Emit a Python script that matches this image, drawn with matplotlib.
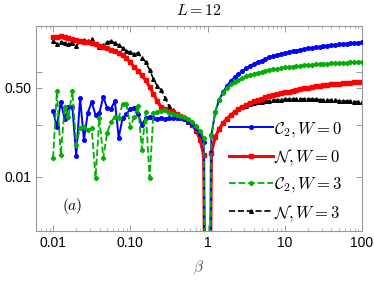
import numpy as np
import matplotlib
matplotlib.use('Agg')
import matplotlib.pyplot as plt
from matplotlib.ticker import FixedLocator, FixedFormatter, LogLocator, NullFormatter

plt.rcParams['mathtext.fontset'] = 'cm'
plt.rcParams['font.family'] = ['Liberation Sans', 'DejaVu Sans']

# beta grid, 0.05 decades from 0.01 to 100
beta = np.logspace(-2, 2, 81)

c2_w0 = [0.182, 0.090, 0.270, 0.128, 0.217, 0.217, 0.025, 0.322, 0.051, 0.167,
         0.270, 0.152, 0.167, 0.337, 0.208, 0.199, 0.283, 0.056, 0.134, 0.159,
         0.199, 0.208, 0.159, 0.098, 0.134, 0.140, 0.134, 0.128, 0.134, 0.128,
         0.134, 0.134, 0.134, 0.131, 0.128, 0.117, 0.103, 0.086, 0.066, 0.047,
         0.0,
         0.063, 0.174, 0.295, 0.419, 0.546, 0.680, 0.811, 0.925, 1.06, 1.18,
         1.31, 1.44, 1.57, 1.67, 1.79, 1.91, 2.04, 2.13, 2.23, 2.33,
         2.41, 2.50, 2.59, 2.68, 2.77, 2.85, 2.92, 3.00, 3.07, 3.14,
         3.21, 3.28, 3.34, 3.39, 3.46, 3.52, 3.57, 3.61, 3.66, 3.71]

neg_w0 = [4.60, 4.70, 4.81, 4.60, 4.40, 4.21, 4.12, 3.94, 3.77, 3.69,
          3.53, 3.38, 3.17, 3.03, 2.84, 2.66, 2.49, 2.33, 2.09, 1.87,
          1.53, 1.26, 1.06, 0.866, 0.695, 0.522, 0.384, 0.283, 0.212, 0.194,
          0.182, 0.170, 0.159, 0.146, 0.134, 0.117, 0.098, 0.079, 0.053, 0.026,
          0.0,
          0.029, 0.058, 0.082, 0.107, 0.128, 0.152, 0.174, 0.199, 0.217, 0.237,
          0.259, 0.276, 0.295, 0.308, 0.329, 0.344, 0.359, 0.375, 0.392, 0.410,
          0.426, 0.444, 0.462, 0.478, 0.491, 0.505, 0.520, 0.534, 0.546, 0.558,
          0.570, 0.583, 0.593, 0.603, 0.614, 0.623, 0.631, 0.637, 0.645, 0.651]

c2_w3 = [0.023, 0.438, 0.026, 0.217, 0.140, 0.438, 0.041, 0.086, 0.090, 0.079,
         0.086, 0.0096, 0.134, 0.023, 0.069, 0.112, 0.140, 0.134, 0.248, 0.248,
         0.090, 0.140, 0.227, 0.033, 0.174, 0.0096, 0.167, 0.174, 0.182, 0.190,
         0.167, 0.159, 0.152, 0.146, 0.140, 0.128, 0.112, 0.094, 0.075, 0.056,
         0.0,
         0.063, 0.174, 0.295, 0.401, 0.500, 0.583, 0.651, 0.711, 0.776, 0.828,
         0.885, 0.925, 0.967, 1.01, 1.06, 1.09, 1.13, 1.16, 1.19, 1.23,
         1.25, 1.28, 1.31, 1.33, 1.35, 1.37, 1.39, 1.41, 1.43, 1.44,
         1.46, 1.47, 1.48, 1.50, 1.51, 1.52, 1.54, 1.55, 1.56, 1.57]

neg_w3 = [3.94, 3.46, 3.77, 3.61, 3.46, 3.61, 3.17, 3.86, 4.03, 3.94,
          4.31, 3.46, 3.03, 3.31, 3.69, 3.94, 3.61, 3.24, 2.90, 2.54,
          2.38, 2.23, 2.33, 1.87, 1.57, 1.10, 0.743, 0.546, 0.458, 0.322,
          0.227, 0.186, 0.159, 0.146, 0.131, 0.114, 0.096, 0.075, 0.051, 0.026,
          0.0,
          0.029, 0.058, 0.082, 0.107, 0.128, 0.152, 0.174, 0.194, 0.212, 0.227,
          0.242, 0.253, 0.264, 0.270, 0.276, 0.283, 0.289, 0.295, 0.299, 0.302,
          0.305, 0.308, 0.308, 0.308, 0.308, 0.307, 0.305, 0.302, 0.299, 0.295,
          0.292, 0.290, 0.288, 0.285, 0.283, 0.280, 0.278, 0.275, 0.272, 0.270]

xticks = [0.01, 0.1, 1, 10, 100]
xticklabels = ['0.01', '0.10', '1', '10', '100']
yticks = [0.01, 0.1, 0.5, 1.0]
yticklabels = ['0.01', '', '0.50', '']

def floor0(v):
    # zero entanglement at beta=1 -> drop straight off the log axis
    return np.clip(np.array(v), 1e-12, None)

fig = plt.figure(figsize=(3.74, 2.83), dpi=100)
ax = fig.add_axes([0.096, 0.184, 0.872, 0.724])

green = '#00b000'
ax.plot(beta, floor0(c2_w0), '-', color='blue', lw=1.4, marker='o', ms=2.6,
        label=r'$\mathcal{C}_2, W=0$', zorder=3)
ax.plot(beta, floor0(neg_w0), '-', color='red', lw=2.2, marker='s', ms=3.0,
        label=r'$\mathcal{N}, W=0$', zorder=2)
ax.plot(beta, floor0(c2_w3), '--', color=green, lw=1.3, marker='P', ms=2.8,
        label=r'$\mathcal{C}_2, W=3$', zorder=4)
ax.plot(beta, floor0(neg_w3), '--', color='black', lw=1.2, marker='^', ms=2.6,
        label=r'$\mathcal{N}, W=3$', zorder=1)

ax.set_xscale('log')
ax.set_yscale('log')
ax.set_xlim(0.006, 100)
ax.set_ylim(0.00093, 7.6)

ax.xaxis.set_major_locator(FixedLocator(xticks))
ax.xaxis.set_major_formatter(FixedFormatter(xticklabels))
ax.xaxis.set_minor_locator(LogLocator(base=10, subs=np.arange(2, 10)))
ax.xaxis.set_minor_formatter(NullFormatter())
ax.yaxis.set_major_locator(FixedLocator(yticks))
ax.yaxis.set_major_formatter(FixedFormatter(yticklabels))
ax.yaxis.set_minor_locator(FixedLocator([]))

frame = '#999999'
for sp in ax.spines.values():
    sp.set_color(frame)
    sp.set_linewidth(0.8)
ax.tick_params(which='both', direction='in', top=True, right=True,
               colors=frame, labelcolor='black', labelsize=10)
ax.tick_params(which='major', length=4, width=0.7)
ax.tick_params(which='minor', length=2, width=0.5)

ax.set_title(r'$L=12$', fontsize=11.5, pad=8)
ax.set_xlabel(r'$\beta$', fontsize=11, color='#555555', labelpad=6)
ax.text(0.08, 0.1, r'$(a)$', transform=ax.transAxes, fontsize=11)

ax.legend(loc='lower right', bbox_to_anchor=(0.965, 0.0), frameon=False,
          fontsize=12, numpoints=1, handlelength=2.6, handletextpad=0.1,
          labelspacing=0.5, borderaxespad=0.1)

fig.savefig('out.png', dpi=100)
